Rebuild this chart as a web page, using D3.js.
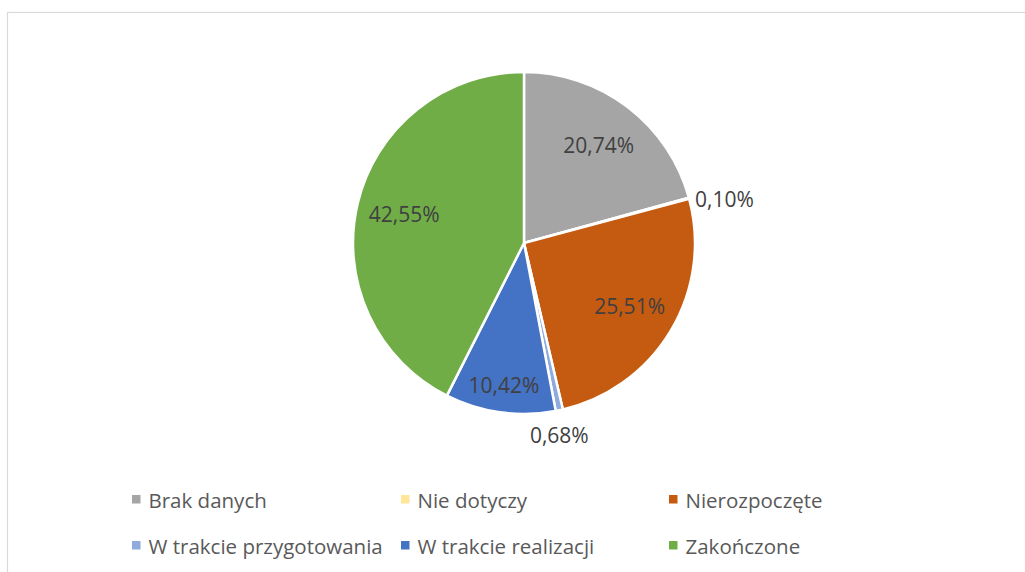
<!DOCTYPE html>
<html><head><meta charset="utf-8">
<script src="https://cdn.jsdelivr.net/npm/d3@7"></script>
<style>html,body{margin:0;padding:0;background:#fff;overflow:hidden}</style>
</head><body>
<svg id="chart" width="1025" height="572"></svg>
<script>
const categories = ["Brak danych","Nie dotyczy","Nierozpoczęte","W trakcie przygotowania","W trakcie realizacji","Zakończone"];
const values = [20.74, 0.10, 25.51, 0.68, 10.42, 42.55];
const labels = ["20,74%","0,10%","25,51%","0,68%","10,42%","42,55%"];
const colors = ["#A5A5A5","#FFE699","#C55A11","#8FAADC","#4472C4","#70AD47"];

const svg = d3.select("#chart");
const W = 1025, H = 572;
const font = "'Open Sans', 'Liberation Sans', sans-serif";

// chart area border
svg.append("rect").attr("x",7.5).attr("y",12.5).attr("width",W+20).attr("height",H+20)
  .attr("fill","none").attr("stroke","#d9d9d9").attr("stroke-width",1.2);

const cx = 524, cy = 243, R = 171;
const g = svg.append("g").attr("transform",`translate(${cx},${cy})`);
const data = categories.map((c,i)=>({name:c, value:values[i], label:labels[i], color:colors[i]}));
const pie = d3.pie().value(d=>d.value).sort(null);
const arcs = pie(data);
const arc = d3.arc().innerRadius(0).outerRadius(R);

g.selectAll("path.slice").data(arcs).enter().append("path")
  .attr("class","slice")
  .attr("d",arc)
  .attr("fill",d=>d.data.color)
  .attr("stroke","#fff").attr("stroke-width",2.5).attr("stroke-linejoin","round");

const fs = 21;
arcs.forEach(a=>{
  const mid = (a.startAngle+a.endAngle)/2;
  const dx = Math.sin(mid), dy = -Math.cos(mid);
  const share = a.data.value;
  let x, y, anchor = "middle";
  if (share < 3) {
    // outside label
    const ax = R*dx, ay = R*dy;
    if (Math.abs(dx) > Math.abs(dy)) {
      anchor = dx > 0 ? "start" : "end";
      x = ax + (dx > 0 ? 6 : -6); y = ay + 1;
    } else {
      x = ax; y = ay + (dy > 0 ? 25 : -25);
    }
  } else {
    const rf = share < 15 ? 0.84 : 0.72;
    x = R*rf*dx; y = R*rf*dy;
  }
  g.append("text").attr("x",x).attr("y",y)
    .attr("text-anchor",anchor).attr("dominant-baseline","central")
    .attr("font-family",font).attr("font-size",fs).attr("fill","#404040")
    .text(a.data.label);
});

// legend
const colX = [132, 401, 669];
const rowY = [499, 545];
const leg = svg.append("g");
data.forEach((d,i)=>{
  const col = i%3, row = Math.floor(i/3);
  const x = colX[col], y = rowY[row];
  leg.append("rect").attr("x",x).attr("y",y-4).attr("width",8.5).attr("height",8.5).attr("fill",d.color);
  leg.append("text").attr("x",x+16.5).attr("y",y+1)
    .attr("dominant-baseline","central")
    .attr("font-family",font).attr("font-size",20.5).attr("fill","#595959")
    .text(d.name);
});
</script>
</body></html>
